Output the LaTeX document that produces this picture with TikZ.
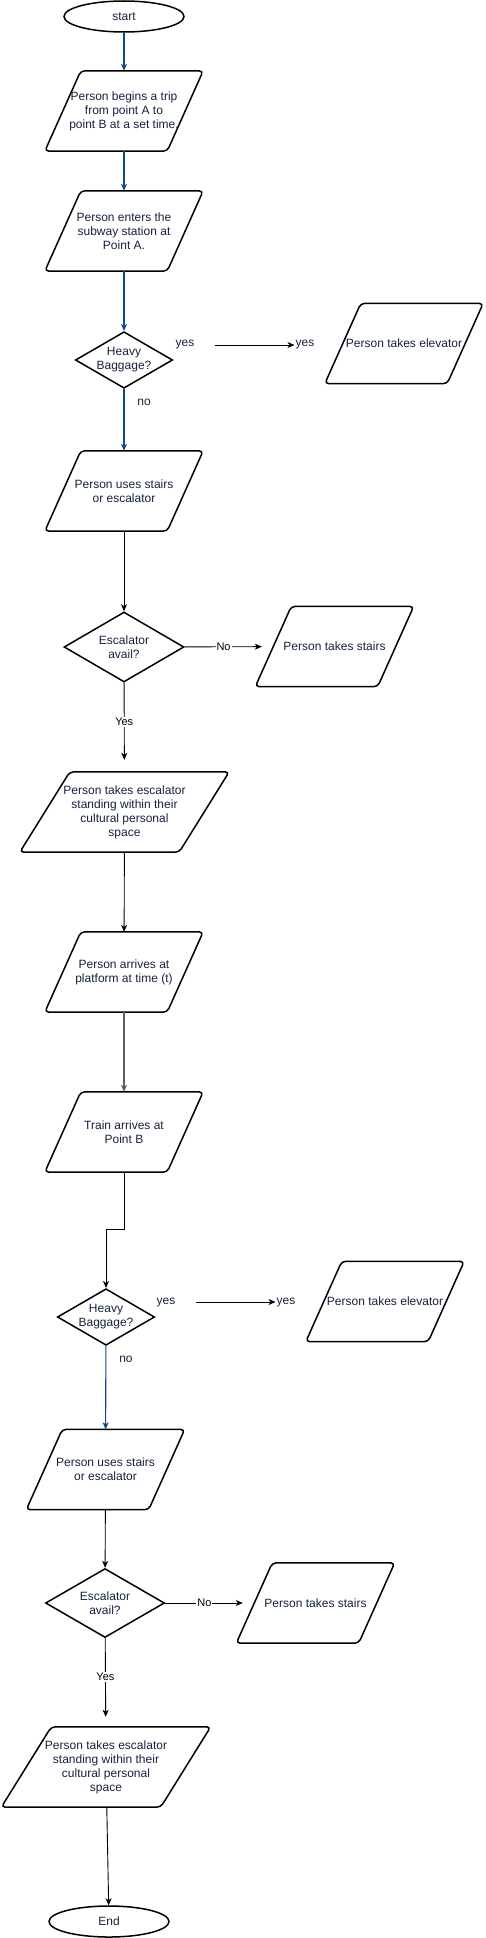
\documentclass[tikz,border=0pt]{standalone}
\usepackage{fontspec}
\setmainfont{Liberation Sans}
\usepackage{tikz}
\usetikzlibrary{shapes.geometric, arrows.meta, positioning}

\definecolor{flowblue}{HTML}{0D4A8C}
\definecolor{txtnavy}{HTML}{15213F}
\definecolor{flowgray}{HTML}{5E5E5E}

\tikzset{
  terminal/.style={ellipse, draw, line width=1.5pt, minimum width=120pt, minimum height=31pt, inner sep=0pt, text=txtnavy},
  io/.style 2 args={rectangle, minimum width=#1, minimum height=80pt, inner sep=0pt, align=center, text=txtnavy,
    append after command={\pgfextra{\draw[line width=1.5pt, rounded corners=4pt]
      ([xshift=#2]\tikzlastnode.north west) -- ([xshift=#2]\tikzlastnode.north east)
      -- ([xshift=-#2]\tikzlastnode.south east) -- ([xshift=-#2]\tikzlastnode.south west) -- cycle;}}},
  inout/.style={io={122pt}{18pt}},
  inoutwide/.style={io={159pt}{25pt}},
  decision/.style={diamond, aspect=1.72, draw, line width=1.5pt, inner sep=0pt, align=center, text=txtnavy},
  flow/.style={-{Stealth[length=7pt,width=6pt,inset=2pt]}, line width=0.9pt},
  flowb/.style={flow, draw=flowblue, line width=1.1pt},
  lbl/.style={text=txtnavy, inner sep=1pt},
  edgelbl/.style={fill=white, inner sep=1pt, pos=0.44, font=\fontsize{11pt}{12pt}\selectfont}
}

\begin{document}
\begin{tikzpicture}[x=1pt, y=-1pt, font=\fontsize{12pt}{14pt}\selectfont]
  \useasboundingbox (0,0) rectangle (485,1938);

  % Trip to the platform
  \node[terminal] (start) at (124,16.5) {start};
  \node[inout] (p1) at (124,111) {Person begins a trip\\from point A to\\point B at a set time.};
  \node[inout] (p2) at (124,231) {Person enters the\\subway station at\\Point A.};
  \node[decision] (d1) at (124,360) {Heavy\\Baggage?};
  \node[lbl] (yes1) at (185,345) {yes};
  \node[lbl] (yes1b) at (305,345) {yes};
  \node[inout] (elev1) at (404,343.5) {Person takes elevator};
  \node[lbl] (no1) at (144,402) {no};
  \node[inout] (p3) at (124,491) {Person uses stairs\\or escalator};
  \node[decision, minimum width=120pt, minimum height=70pt] (d2) at (124,647) {Escalator\\avail?};
  \node[inout] (stairs1) at (334.5,646.5) {Person takes stairs};
  \node[inoutwide] (p4) at (124.5,812) {Person takes escalator\\standing within their\\cultural personal\\space};
  \node[inout] (p5) at (124,972) {Person arrives at\\platform at time (t)};
  \node[inout] (p6) at (124,1132) {Train arrives at\\Point B};

  % Leaving at point B
  \node[decision] (d3) at (106,1317) {Heavy\\Baggage?};
  \node[lbl] (yes2) at (166,1302) {yes};
  \node[lbl] (yes2b) at (286,1302) {yes};
  \node[inout] (elev2) at (385,1301.5) {Person takes elevator};
  \node[lbl] (no2) at (126,1359) {no};
  \node[inout] (p7) at (105.5,1469.5) {Person uses stairs\\or escalator};
  \node[decision, minimum width=119pt, minimum height=69pt] (d4) at (105,1603) {Escalator\\avail?};
  \node[inout] (stairs2) at (315.5,1603) {Person takes stairs};
  \node[inoutwide] (p8) at (106,1767) {Person takes escalator\\standing within their\\cultural personal\\space};
  \node[terminal] (end) at (109,1921.5) {End};

  % Connectors
  \draw[flowb] (start) -- (p1);
  \draw[flowb] (p1) -- (p2);
  \draw[flowb] (p2) -- (d1);
  \draw[flow] ([xshift=19pt]yes1.east) -- (yes1b.west);
  \draw[flowb] (d1) -- (p3);
  \draw[flow] (p3) -- (d2);
  \draw[flow, shorten >=11.5pt] (d2) -- node[edgelbl] {No} (stairs1);
  \draw[flow, shorten >=12pt] (d2) -- node[edgelbl] {Yes} (p4);
  \draw[flow] (p4) -- (p5);
  \draw[flow, draw=flowgray, line width=1.2pt] (p5) -- (p6);
  \draw[flow] (p6.south) -- ++(0,57) -| (d3.north);
  \draw[flow] ([xshift=19pt]yes2.east) -- (yes2b.west);
  \draw[flowb] (d3) -- (p7);
  \draw[flow] (p7) -- (d4);
  \draw[flow, shorten >=11.5pt] (d4) -- node[edgelbl] {No} (stairs2);
  \draw[flow, shorten >=10pt] (d4) -- node[edgelbl] {Yes} (p8);
  \draw[flow] (p8) -- (end);
\end{tikzpicture}
\end{document}
